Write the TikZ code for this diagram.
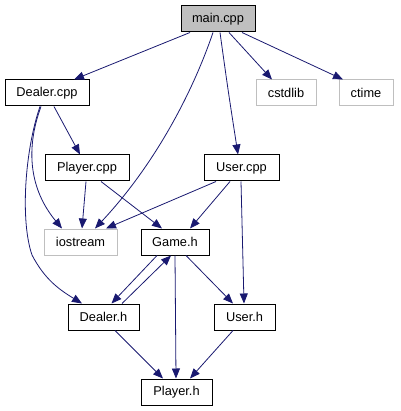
\documentclass[tikz,border=0pt]{standalone}
\usepackage{fontspec}
\setmainfont{Liberation Sans}
\usetikzlibrary{arrows.meta}
\definecolor{edgeblue}{HTML}{191970}
\definecolor{boxgray}{HTML}{BFBFBF}
\begin{document}
\begin{tikzpicture}[x=1pt,y=-1pt,
  box/.style={draw=black,line width=1pt,minimum height=26pt,inner sep=0pt,font=\fontsize{12.8}{14}\selectfont,fill=white},
  extbox/.style={box,draw=boxgray},
  mainbox/.style={box,fill=boxgray},
  edge/.style={draw=edgeblue,line width=0.8pt,-{Triangle[length=10pt,width=8pt]}}]
\useasboundingbox (0,0) rectangle (400,411);
\node[mainbox,minimum width=74pt] (main) at (218,19) {main.cpp};
\node[box,minimum width=84pt] (dcpp) at (47,93) {Dealer.cpp};
\node[extbox,minimum width=60pt] (cstdlib) at (286,93) {cstdlib};
\node[extbox,minimum width=54pt] (ctime) at (366,93) {ctime};
\node[box,minimum width=84pt] (pcpp) at (87,168) {Player.cpp};
\node[box,minimum width=75pt] (ucpp) at (241.5,168) {User.cpp};
\node[extbox,minimum width=73pt] (iostream) at (80.5,242) {iostream};
\node[box,minimum width=68pt] (gameh) at (175,242) {Game.h};
\node[box,minimum width=71pt] (dealerh) at (103.5,317) {Dealer.h};
\node[box,minimum width=61pt] (userh) at (244.5,317) {User.h};
\node[box,minimum width=71pt] (playerh) at (176.5,392) {Player.h};

\draw[edge] ([xshift=-28pt]main.south) -- ([xshift=27pt]dcpp.north);
\draw[edge] ([xshift=-5pt]main.south) .. controls (190,100) and (150,170) .. ([xshift=14.5pt]iostream.north);
\draw[edge] ([xshift=2pt]main.south) .. controls (228,90) .. ([xshift=-3.5pt]ucpp.north);
\draw[edge] ([xshift=11pt]main.south) -- ([xshift=-14pt]cstdlib.north);
\draw[edge] ([xshift=24pt]main.south) -- ([xshift=-23pt]ctime.north);
\draw[edge] ([xshift=7pt]dcpp.south) -- ([xshift=-7pt]pcpp.north);
\draw[edge] ([xshift=-6pt]dcpp.south) .. controls (25,150) and (30,190) .. ([xshift=-18.5pt]iostream.north);
\draw[edge] ([xshift=-7pt]dcpp.south) .. controls (25,150) and (20,220) .. (32,255) .. controls (45,280) and (60,290) .. ([xshift=-21.5pt]dealerh.north);
\draw[edge] ([xshift=-1pt]pcpp.south) -- ([xshift=1.5pt]iostream.north);
\draw[edge] ([xshift=14pt]pcpp.south) -- ([xshift=-13pt]gameh.north);
\draw[edge] ([xshift=-25.5pt]ucpp.south) -- ([xshift=25.5pt]iostream.north);
\draw[edge] ([xshift=-11.5pt]ucpp.south) -- ([xshift=15pt]gameh.north);
\draw[edge] ([xshift=-0.5pt]ucpp.south) -- ([xshift=-0.5pt]userh.north);
\draw[edge] ([xshift=-18pt]gameh.south) -- ([xshift=8pt]dealerh.north);
\draw[edge] ([xshift=18.5pt]dealerh.north) -- ([xshift=-4pt]gameh.south);
\draw[edge] (gameh.south) -- ([xshift=-0.5pt]playerh.north);
\draw[edge] ([xshift=11pt]gameh.south) -- ([xshift=-11.5pt]userh.north);
\draw[edge] ([xshift=11.5pt]dealerh.south) -- ([xshift=-13.5pt]playerh.north);
\draw[edge] ([xshift=-11.5pt]userh.south) -- ([xshift=13.5pt]playerh.north);
\end{tikzpicture}
\end{document}
